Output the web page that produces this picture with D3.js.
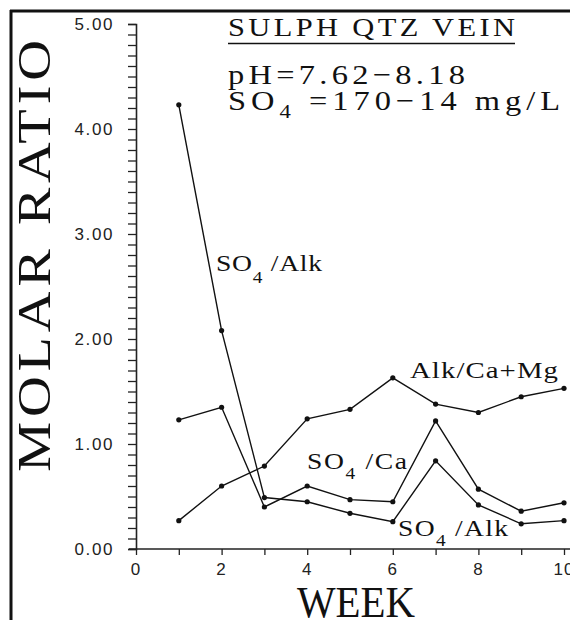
<!DOCTYPE html>
<html>
<head>
<meta charset="utf-8">
<script src="https://cdn.jsdelivr.net/npm/d3@7"></script>
<style>
  html, body { margin: 0; padding: 0; background: #fff; }
  svg { display: block; }
  .serif { font-family: "Liberation Serif", "DejaVu Serif", serif; fill: #111; }
  .tick-label { font-family: "Liberation Sans", Arial, sans-serif; fill: #222; }
</style>
</head>
<body>
<svg id="chart" width="570" height="620"></svg>
<script>
// Weekly molar ratios for the sulphide-quartz vein leachate
const weeks = [1, 2, 3, 4, 5, 6, 7, 8, 9, 10];
const so4Alk = [4.23, 2.08, 0.49, 0.45, 0.34, 0.26, 0.84, 0.42, 0.24, 0.27];
const so4Ca = [1.23, 1.35, 0.40, 0.60, 0.47, 0.45, 1.22, 0.57, 0.36, 0.44];
const alkCaMg = [0.27, 0.60, 0.79, 1.24, 1.33, 1.63, 1.38, 1.30, 1.45, 1.53];

const yTicks = [0, 1, 2, 3, 4, 5];
const xTicks = [0, 2, 4, 6, 8, 10];

const svg = d3.select("#chart");

const x = d3.scaleLinear().domain([0, 10]).range([136, 564]);
const y = d3.scaleLinear().domain([0, 5]).range([549, 24]);

// Outer frame (top and left edges)
svg.append("path")
  .attr("d", "M10,11 H570 M11,10 V620")
  .attr("fill", "none").attr("stroke", "#111").attr("stroke-width", 3);

// Y axis: minor ticks every 0.1, labels every 1.00
const yAxis = d3.axisLeft(y)
  .tickValues(d3.range(0, 50.5).map(i => i / 10))
  .tickSize(8)
  .tickFormat(() => "");
const gy = svg.append("g").attr("transform", `translate(${x(0)},0)`).call(yAxis);
gy.select(".domain").attr("stroke", "#222").attr("stroke-width", 1.6);
gy.selectAll(".tick line").attr("stroke", "#222").attr("stroke-width", 1.3);

svg.append("g").selectAll("text").data(yTicks).join("text")
  .attr("class", "tick-label")
  .attr("x", 114).attr("y", d => y(d) + 6)
  .attr("text-anchor", "end")
  .attr("font-size", 17)
  .attr("letter-spacing", 1.6)
  .text(d => d3.format(".2f")(d));

// X axis: ticks every week, labels every 2 weeks
svg.append("line")
  .attr("x1", 129).attr("x2", 570)
  .attr("y1", y(0)).attr("y2", y(0))
  .attr("stroke", "#222").attr("stroke-width", 1.6);
const xAxis = d3.axisBottom(x).tickValues(d3.range(0, 11)).tickSize(6).tickFormat(() => "");
const gx = svg.append("g").attr("transform", `translate(0,${y(0)})`).call(xAxis);
gx.select(".domain").remove();
gx.selectAll(".tick line").attr("stroke", "#222").attr("stroke-width", 1.3);

svg.append("g").selectAll("text").data(xTicks).join("text")
  .attr("class", "tick-label")
  .attr("x", d => x(d)).attr("y", 575)
  .attr("text-anchor", "middle")
  .attr("font-size", 17)
  .attr("letter-spacing", 1)
  .text(d => d);

// Series lines with point markers
const line = d3.line().x(d => x(d[0])).y(d => y(d[1]));
[so4Alk, so4Ca, alkCaMg].forEach(vals => {
  const pts = weeks.map((w, i) => [w, vals[i]]);
  svg.append("path")
    .attr("d", line(pts))
    .attr("fill", "none").attr("stroke", "#111").attr("stroke-width", 1.4);
  svg.append("g").selectAll("circle").data(pts).join("circle")
    .attr("cx", d => x(d[0])).attr("cy", d => y(d[1]))
    .attr("r", 2.6).attr("fill", "#111");
});

// Text helper: widened serif text spaced out to a given length,
// with an optional lowered "4" subscript
function label(transform, size, len, parts, sx = 1.22, subDrop = 0.42) {
  const g = svg.append("g").attr("transform", `${transform} scale(${sx},1)`);
  const t = g.append("text").attr("class", "serif")
    .attr("x", 0).attr("y", 0).attr("font-size", size)
    .attr("textLength", len / sx).attr("lengthAdjust", "spacing");
  parts.forEach(p => {
    if (p.sub) {
      t.append("tspan").attr("font-size", size * 0.7).attr("dy", size * subDrop).text(p.t);
      t.append("tspan").attr("dy", -size * subDrop).text(" ");
    } else {
      t.append("tspan").text(p.t);
    }
  });
  return t;
}

// Header block
label("translate(228,36)", 25, 287, [{ t: "SULPH  QTZ  VEIN" }]);
svg.append("line").attr("x1", 228).attr("x2", 515).attr("y1", 43.5).attr("y2", 43.5)
  .attr("stroke", "#111").attr("stroke-width", 1.6);
label("translate(228,84)", 27.5, 237, [{ t: "pH=7.62\u22128.18" }], 1.18);
label("translate(228,110)", 27.5, 332, [{ t: "SO" }, { t: "4", sub: true }, { t: "=170\u221214  mg/L" }], 1.18, 0.3);

// Series labels
label("translate(216,271)", 24, 106, [{ t: "SO" }, { t: "4", sub: true }, { t: "/Alk" }], 1.15, 0.5);
label("translate(410,378)", 24, 148, [{ t: "Alk/Ca+Mg" }], 1.2);
label("translate(307,469)", 24, 100, [{ t: "SO" }, { t: "4", sub: true }, { t: "/Ca" }], 1.15);
label("translate(398,536)", 24, 110, [{ t: "SO" }, { t: "4", sub: true }, { t: "/Alk" }], 1.15);

// Axis titles
label("translate(50,472) rotate(-90)", 47, 432, [{ t: "MOLAR RATIO" }], 1.2);
svg.append("text").attr("class", "serif")
  .attr("x", 297).attr("y", 617)
  .attr("font-size", 45)
  .attr("textLength", 118).attr("lengthAdjust", "spacingAndGlyphs")
  .text("WEEK");
</script>
</body>
</html>
